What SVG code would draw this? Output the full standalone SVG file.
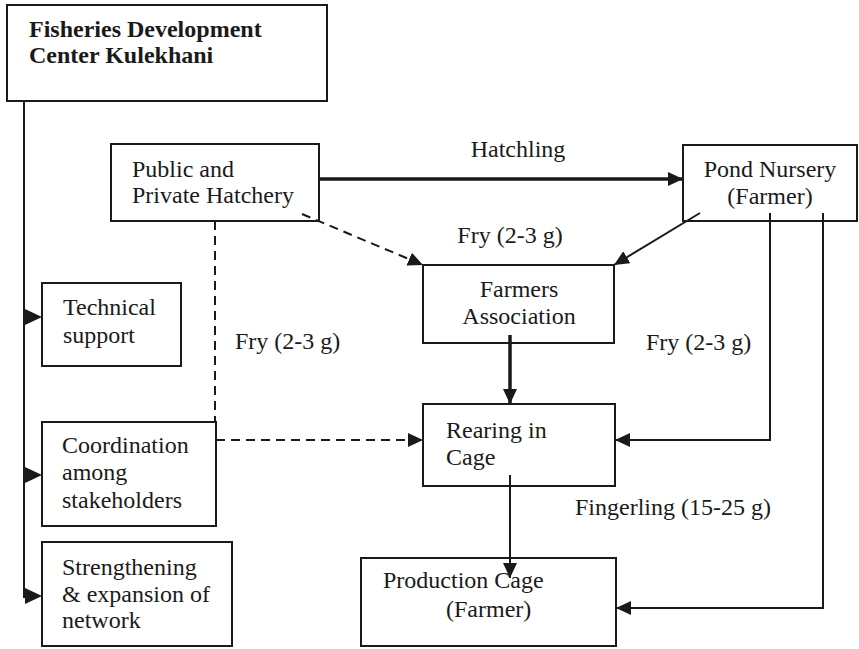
<svg xmlns="http://www.w3.org/2000/svg" width="859" height="649" viewBox="0 0 859 649">
<style>
.box{fill:#fff;stroke:#1a1a1a;stroke-width:2}
.t{font-family:"Liberation Serif","Times New Roman",serif;font-size:24px;fill:#1a1a1a}
.b{font-weight:bold}
.c{fill:none;stroke:#1a1a1a;stroke-width:2}
.d{stroke-dasharray:9 6}
.thick{stroke-width:3.5}
</style>
<defs>
<marker id="ah" markerUnits="userSpaceOnUse" markerWidth="16" markerHeight="14" refX="15" refY="7" orient="auto">
<path d="M0,0 L15,7 L0,14 Z" fill="#1a1a1a"/>
</marker>
</defs>
<rect width="859" height="649" fill="#fff"/>
<g id="fdc">
<rect class="box" x="7" y="5" width="320" height="96"/>
<text class="t b" x="29" y="37">Fisheries Development</text>
<text class="t b" x="29" y="63">Center Kulekhani</text>
</g>
<g id="hatchery">
<rect class="box" x="111" y="144" width="208" height="77"/>
<text class="t" x="132" y="177">Public and</text>
<text class="t" x="132" y="203">Private Hatchery</text>
</g>
<g id="pond">
<rect class="box" x="683" y="145" width="174" height="76"/>
<text class="t" x="770" y="177" text-anchor="middle">Pond Nursery</text>
<text class="t" x="770" y="204" text-anchor="middle">(Farmer)</text>
</g>
<g id="farmers">
<rect class="box" x="423" y="265" width="191" height="78"/>
<text class="t" x="519" y="297" text-anchor="middle">Farmers</text>
<text class="t" x="519" y="324" text-anchor="middle">Association</text>
</g>
<g id="rearing">
<rect class="box" x="423" y="404" width="192" height="82"/>
<text class="t" x="446" y="438">Rearing in</text>
<text class="t" x="446" y="465">Cage</text>
</g>
<g id="production">
<rect class="box" x="361" y="558" width="255" height="88"/>
<text class="t" x="383" y="588">Production Cage</text>
<text class="t" x="446" y="617">(Farmer)</text>
</g>
<g id="technical">
<rect class="box" x="42" y="283" width="139" height="83"/>
<text class="t" x="63" y="315">Technical</text>
<text class="t" x="63" y="343">support</text>
</g>
<g id="coordination">
<rect class="box" x="42" y="422" width="174" height="104"/>
<text class="t" x="62" y="453">Coordination</text>
<text class="t" x="62" y="480">among</text>
<text class="t" x="62" y="508">stakeholders</text>
</g>
<g id="strengthening">
<rect class="box" x="42" y="542" width="190" height="104"/>
<text class="t" x="62" y="575">Strengthening</text>
<text class="t" x="62" y="602">&amp; expansion of</text>
<text class="t" x="62" y="628">network</text>
</g>
<g id="connectors">
<path class="c" d="M24,101 V598"/>
<path d="M25,309 L42,317 L25,325 Z" fill="#1a1a1a"/>
<path d="M25,467 L42,475 L25,483 Z" fill="#1a1a1a"/>
<path d="M25,588 L42,596 L25,604 Z" fill="#1a1a1a"/>
<path class="c thick" d="M319,179 H683" marker-end="url(#ah)"/>
<path class="c d" d="M302,214 L423,265" marker-end="url(#ah)"/>
<path class="c" d="M700,213 L614,265" marker-end="url(#ah)"/>
<path class="c thick" d="M510,335 V404" marker-end="url(#ah)"/>
<path class="c d" d="M215,221 V422"/>
<path class="c d" d="M216,440 H423" marker-end="url(#ah)"/>
<path class="c" d="M770,213 V440 H615" marker-end="url(#ah)"/>
<path class="c" d="M823,213 V608 H616" marker-end="url(#ah)"/>
<path class="c" d="M510,475 V578" marker-end="url(#ah)"/>
</g>
<g id="labels">
<text class="t" x="518" y="157" text-anchor="middle">Hatchling</text>
<text class="t" x="510" y="243" text-anchor="middle">Fry (2-3 g)</text>
<text class="t" x="235" y="349">Fry (2-3 g)</text>
<text class="t" x="646" y="350">Fry (2-3 g)</text>
<text class="t" x="575" y="515">Fingerling (15-25 g)</text>
</g>
</svg>
